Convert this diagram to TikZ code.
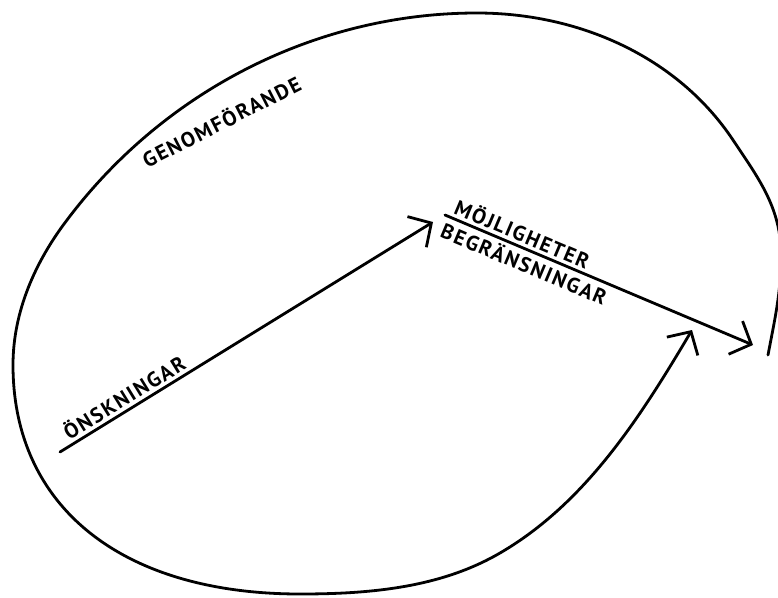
\documentclass[tikz,border=0pt]{standalone}
\usepackage{fontspec}
\setmainfont{PT Sans}
\usetikzlibrary{arrows.meta}
\begin{document}
\begin{tikzpicture}[x=1pt,y=-1pt,line width=2.8pt,line cap=round,line join=round,
  barb/.style={-{Straight Barb[length=17pt,width=36pt]}},
  lbl/.style={font=\fontsize{21}{21}\selectfont\bfseries\addfontfeatures{LetterSpace=8}, inner sep=3pt}]
\useasboundingbox (0,0) rectangle (778,597);
\clip (0,0) rectangle (778,597);
\coordinate (o1) at (60,452);
\coordinate (o2) at (433,222);
\coordinate (m1) at (445,215);
\coordinate (m2) at (753,345);
\coordinate (c0) at (768,355);
\coordinate (c1) at (781,255);
\coordinate (c2) at (733,140);
\coordinate (c3) at (477,13);
\coordinate (c5) at (67,220);
\coordinate (c6) at (13,365);
\coordinate (c8) at (300,594);
\coordinate (c9) at (500,553);
\coordinate (c10) at (692,330);
\draw[barb] (o1) -- node[lbl,sloped,above,pos=0.19] (on) {ÖNSKNINGAR} (o2);
\draw[barb] (m1) -- node[lbl,sloped,above,pos=0.235] (mj) {MÖJLIGHETER}
                   node[lbl,sloped,below,pos=0.275] (bg) {BEGRÄNSNINGAR} (m2);
\node[lbl,rotate=27] (gf) at (221,121) {GENOMFÖRANDE};
\draw[barb] (c0) .. controls (775,318) and (781,293) .. (c1)
  .. controls (781,208) and (759,179) .. (c2)
  .. controls (677,56) and (578,13) .. (c3)
  .. controls (316,13) and (164,91) .. (c5)
  .. controls (35,262) and (13,312) .. (c6)
  .. controls (13,507) and (122,594) .. (c8)
  .. controls (369,594) and (440,588) .. (c9)
  .. controls (586,503) and (641,416) .. (c10);
\end{tikzpicture}
\end{document}
